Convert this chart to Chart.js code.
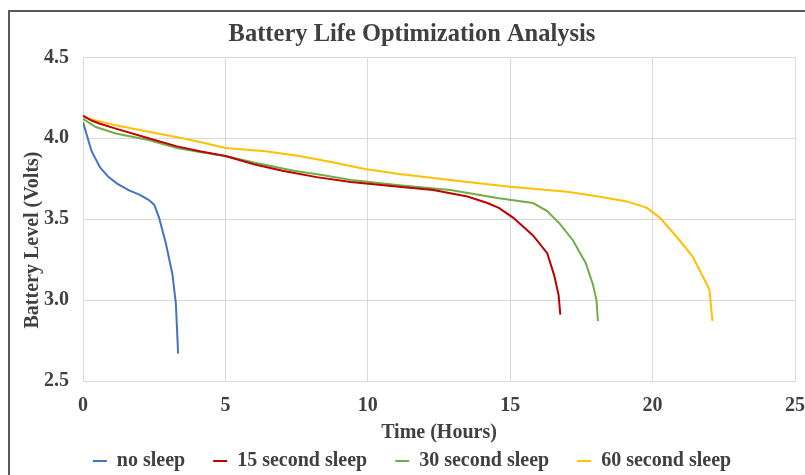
<!DOCTYPE html>
<html>
<head>
<meta charset="utf-8">
<script src="https://cdn.jsdelivr.net/npm/chart.js@4"></script>
<style>
  html, body { margin: 0; padding: 0; background: #fff; overflow: hidden; }
  #frame { position: absolute; left: 8px; top: 10px; width: 830px; height: 480px; border: 2px solid #595959; }
  #wrap { position: absolute; left: 10px; top: 12px; width: 804px; height: 469px; }
</style>
</head>
<body>
<div id="frame"></div>
<div id="wrap"><canvas id="chart"></canvas></div>
<script>
// Series (hours, volts)
const noSleepHours = [0, 0.1, 0.3, 0.6, 0.9, 1.2, 1.6, 2.0, 2.3, 2.5, 2.67, 2.91, 3.14, 3.26, 3.34];
const noSleepVolts = [4.10, 4.04, 3.92, 3.82, 3.76, 3.72, 3.68, 3.65, 3.62, 3.59, 3.51, 3.35, 3.16, 2.98, 2.67];

const sleep15Hours = [0, 0.3, 0.6, 1.15, 2.3, 3.3, 4.1, 5.0, 6.0, 7.0, 8.2, 9.4, 11.1, 12.3, 13.5, 14.2, 14.6, 15.1, 15.8, 16.3, 16.55, 16.7, 16.76];
const sleep15Volts = [4.14, 4.11, 4.09, 4.06, 4.00, 3.95, 3.92, 3.89, 3.84, 3.80, 3.76, 3.73, 3.70, 3.68, 3.64, 3.60, 3.57, 3.51, 3.40, 3.29, 3.15, 3.03, 2.91];

const sleep30Hours = [0, 0.45, 1.15, 2.3, 3.3, 4.1, 5.0, 6.0, 7.4, 8.5, 9.5, 11.1, 12.9, 14.6, 15.8, 16.3, 16.75, 17.2, 17.65, 17.9, 18.03, 18.08];
const sleep30Volts = [4.12, 4.07, 4.03, 3.99, 3.94, 3.915, 3.89, 3.85, 3.80, 3.77, 3.74, 3.71, 3.68, 3.63, 3.60, 3.55, 3.47, 3.37, 3.23, 3.10, 3.00, 2.87];

const sleep60Hours = [0, 1.15, 2.3, 3.5, 4.3, 5.0, 6.4, 7.6, 8.8, 9.9, 11.1, 13.5, 15.0, 17.0, 18.1, 19.1, 19.8, 20.25, 20.85, 21.4, 21.9, 22.0, 22.1];
const sleep60Volts = [4.13, 4.08, 4.04, 4.00, 3.97, 3.94, 3.92, 3.89, 3.85, 3.81, 3.78, 3.73, 3.70, 3.67, 3.64, 3.61, 3.57, 3.51, 3.39, 3.27, 3.10, 3.06, 2.87];

const seriesNames = ['no sleep', '15 second sleep', '30 second sleep', '60 second sleep'];
const seriesColors = ['#4472C4', '#C00000', '#70AD47', '#FFC000'];

const textColor = '#404040';
const serif = '"Liberation Serif", "Times New Roman", serif';

function toPoints(xs, ys) {
    return xs.map((x, i) => ({ x: x, y: ys[i] }));
}

const allSeries = [
    toPoints(noSleepHours, noSleepVolts),
    toPoints(sleep15Hours, sleep15Volts),
    toPoints(sleep30Hours, sleep30Volts),
    toPoints(sleep60Hours, sleep60Volts)
];

// y axis title drawn by hand, Excel puts it a bit below the plot centre
const yTitlePlugin = {
    id: 'yTitle',
    afterDraw: chart => {
        const ctx = chart.ctx;
        ctx.save();
        ctx.translate(23, 228);
        ctx.rotate(-Math.PI / 2);
        ctx.font = 'bold 20px ' + serif;
        ctx.fillStyle = textColor;
        ctx.textAlign = 'center';
        ctx.textBaseline = 'middle';
        ctx.fillText('Battery Level (Volts)', 0, 0);
        ctx.restore();
    }
};

new Chart(document.getElementById('chart'), {
    type: 'line',
    data: {
        datasets: allSeries.map((pts, i) => ({
            label: seriesNames[i],
            data: pts,
            borderColor: seriesColors[i],
            backgroundColor: seriesColors[i],
            borderWidth: 2,
            pointRadius: 0,
            tension: 0
        }))
    },
    options: {
        responsive: true,
        maintainAspectRatio: false,
        animation: false,
        layout: { padding: { left: 19, right: 19, top: 0, bottom: 0 } },
        plugins: {
            title: {
                display: true,
                text: 'Battery Life Optimization Analysis',
                color: textColor,
                font: { family: serif, size: 24.5, weight: 'bold' },
                padding: { top: 8, bottom: 8 }
            },
            legend: {
                position: 'bottom',
                labels: {
                    color: textColor,
                    font: { family: serif, size: 20, weight: 'bold' },
                    boxWidth: 14,
                    boxHeight: 2,
                    padding: 28,
                    generateLabels: chart => Chart.defaults.plugins.legend.labels.generateLabels(chart)
                        .map(item => Object.assign(item, { lineWidth: 0 }))
                }
            },
            tooltip: { enabled: false }
        },
        scales: {
            x: {
                type: 'linear',
                min: 0,
                max: 25,
                ticks: {
                    stepSize: 5,
                    color: textColor,
                    padding: 13,
                    font: { family: serif, size: 20, weight: 'bold' }
                },
                grid: { color: '#d9d9d9', drawTicks: false },
                border: { color: '#d9d9d9' },
                title: {
                    display: true,
                    text: 'Time (Hours)',
                    color: textColor,
                    font: { family: serif, size: 20, weight: 'bold' },
                    padding: { top: -10, bottom: -22 }
                },
                afterFit: scale => { scale.paddingLeft = 0; scale.paddingRight = 0; }
            },
            y: {
                min: 2.5,
                max: 4.5,
                ticks: {
                    stepSize: 0.5,
                    color: textColor,
                    padding: 14,
                    font: { family: serif, size: 20, weight: 'bold' },
                    callback: v => v.toFixed(1)
                },
                grid: { color: '#d9d9d9', drawTicks: false },
                border: { color: '#d9d9d9' },
                afterFit: scale => { scale.width = 54; }
            }
        }
    },
    plugins: [yTitlePlugin]
});
</script>
</body>
</html>
